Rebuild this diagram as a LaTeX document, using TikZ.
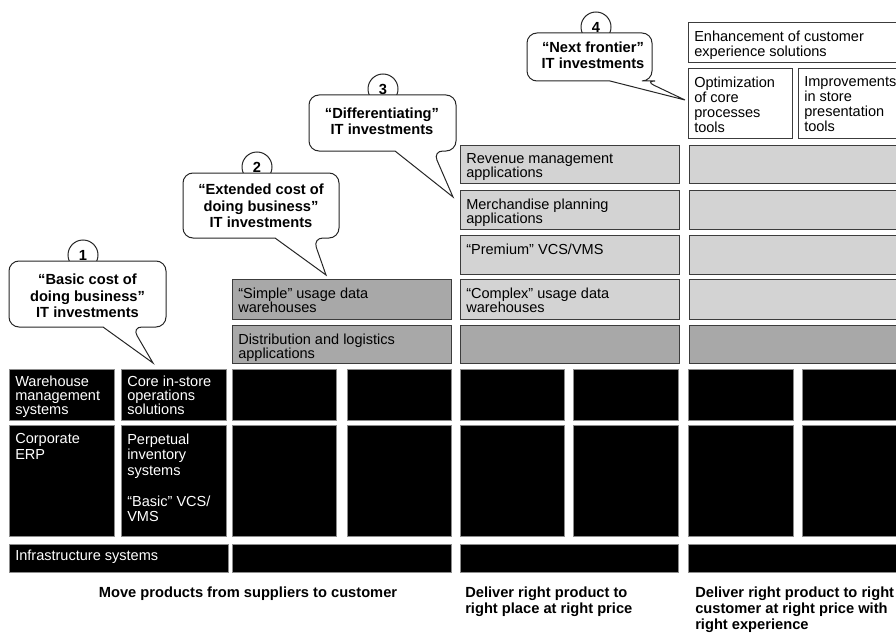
\documentclass[tikz,border=0pt]{standalone}
\usepackage{fontspec}
\setmainfont{Liberation Sans}
\definecolor{paleslot}{HTML}{D3D3D3}
\definecolor{deepslot}{HTML}{A8A8A8}
\definecolor{rimgray}{HTML}{3C3C3C}
\begin{document}
\begin{tikzpicture}[x=0.75pt, y=-0.75pt,
	sz/.style 2 args={minimum width=#1*0.75pt, minimum height=#2*0.75pt},
	slot/.style={anchor=north west, inner sep=0pt, draw=rimgray, line width=0.75pt},
	blk/.style={slot, fill=black, draw=black!45},
	pale/.style={slot, fill=paleslot},
	deep/.style={slot, fill=deepslot},
	plain/.style={slot, fill=white},
	txt/.style={anchor=north west, align=left, inner xsep=4.5pt, inner ysep=6.3pt, font=\fontsize{10.9}{#1}\selectfont},
	txt/.default=11.6pt,
	wtxt/.style={txt=#1, text=white},
	wtxt/.default=11.6pt,
	ring/.style={circle, draw=black!85, fill=white, line width=0.75pt, minimum size=22.5pt, inner sep=0pt, font=\bfseries\fontsize{11}{12}\selectfont},
	bub/.style={draw=black!85, fill=white, line width=0.75pt},
	bubtxt/.style={align=center, inner sep=0pt, font=\bfseries\fontsize{11}{12.2}\selectfont},
	goal/.style={align=left, inner sep=0pt, font=\bfseries\fontsize{11}{12}\selectfont}]
	\useasboundingbox (0,0) rectangle (896,635);
	\clip (0,0) rectangle (896,635);

	\node[blk, sz={105}{51}] (wms) at (9,369) {};
	\node[blk, sz={105}{51}] (core) at (121,369) {};
	\node[blk, sz={104}{51}] (up3) at (232,369) {};
	\node[blk, sz={104}{51}] (up4) at (347,369) {};
	\node[blk, sz={104}{51}] (up5) at (460,369) {};
	\node[blk, sz={105}{51}] (up6) at (573,369) {};
	\node[blk, sz={105}{51}] (up7) at (688,369) {};
	\node[blk, sz={110}{51}] (up8) at (802,369) {};
	\node[wtxt=10.5pt, inner ysep=4.8pt] (wms-t) at (wms.north west) {Warehouse\\management\\systems};
	\node[wtxt=10.5pt, inner ysep=4.8pt] (core-t) at (core.north west) {Core in-store\\operations\\solutions};

	\node[blk, sz={105}{111}] (erp) at (9,425) {};
	\node[blk, sz={105}{111}] (inv) at (121,425) {};
	\node[blk, sz={104}{111}] (lo3) at (232,425) {};
	\node[blk, sz={104}{111}] (lo4) at (347,425) {};
	\node[blk, sz={104}{111}] (lo5) at (460,425) {};
	\node[blk, sz={105}{111}] (lo6) at (573,425) {};
	\node[blk, sz={105}{111}] (lo7) at (688,425) {};
	\node[blk, sz={110}{111}] (lo8) at (802,425) {};
	\node[wtxt] (erp-t) at (erp.north west) {Corporate\\ERP};
	\node[wtxt] (inv-t) at (inv.north west) {Perpetual\\inventory\\systems\\[11.6pt]“Basic” VCS/\\VMS};

	\node[blk, sz={219}{28}] (infra) at (9,544) {};
	\node[blk, sz={219}{28}] (infra2) at (232,544) {};
	\node[blk, sz={218}{28}] (infra3) at (460,544) {};
	\node[blk, sz={222}{28}] (infra4) at (688,544) {};
	\node[wtxt, inner ysep=4pt] (infra-t) at (infra.north west) {Infrastructure systems};

	\node[deep, sz={219}{40}] (simple) at (232,279) {};
	\node[deep, sz={219}{38}] (dist) at (232,325) {};
	\node[txt=10.5pt] (simple-t) at (simple.north west) {“Simple” usage data\\warehouses};
	\node[txt=10.5pt] (dist-t) at (dist.north west) {Distribution and logistics\\applications};

	\node[pale, sz={219}{38}] (rev) at (460,145) {};
	\node[pale, sz={219}{39}] (merch) at (460,190) {};
	\node[pale, sz={219}{39}] (prem) at (460,235) {};
	\node[pale, sz={219}{40}] (cplx) at (460,279) {};
	\node[deep, sz={219}{38}] (mid5) at (460,325) {};
	\node[txt=10.5pt] (rev-t) at (rev.north west) {Revenue management\\applications};
	\node[txt=10.5pt] (merch-t) at (merch.north west) {Merchandise planning\\applications};
	\node[txt=10.5pt] (prem-t) at (prem.north west) {“Premium” VCS/VMS};
	\node[txt=10.5pt] (cplx-t) at (cplx.north west) {“Complex” usage data\\warehouses};

	\node[pale, sz={222}{38}] (rev2) at (689,145) {};
	\node[pale, sz={222}{39}] (merch2) at (689,190) {};
	\node[pale, sz={222}{39}] (prem2) at (689,235) {};
	\node[pale, sz={222}{40}] (cplx2) at (689,279) {};
	\node[deep, sz={222}{38}] (mid6) at (689,325) {};

	\node[plain, sz={222}{40}] (enh) at (688,22) {};
	\node[plain, sz={104}{70}] (optim) at (688,68) {};
	\node[plain, sz={112}{70}] (impr) at (798,68) {};
	\node[txt=11.25pt] (enh-t) at (enh.north west) {Enhancement of customer\\experience solutions};
	\node[txt=11.25pt] (optim-t) at (optim.north west) {Optimization\\of core\\processes\\tools};
	\node[txt=11.25pt] (impr-t) at (impr.north west) {Improvements\\in store\\presentation\\tools};

	\node[ring] (n1) at (83,255) {1};
	\draw[bub] (103,327) [rounded corners=7.5pt] -- (9,327) |- (166,261) |- (132,327) [sharp corners] -- (153,363) -- cycle;
	\node[bubtxt] (c1) at (87.5,296) {“Basic cost of\\doing business”\\IT investments};

	\node[ring] (n2) at (257,167) {2};
	\draw[bub] (275,238) [rounded corners=7.5pt] -- (183,238) |- (339,173) |- (313,238) [sharp corners] -- (326,275) -- cycle;
	\node[bubtxt] (c2) at (261,206) {“Extended cost of\\doing business”\\IT investments};

	\node[ring] (n3) at (383,89) {3};
	\draw[bub] (395,151) [rounded corners=7.5pt] -- (309,151) |- (456,95) |- (433,151) [sharp corners] -- (453,197) -- cycle;
	\node[bubtxt] (c3) at (382,121) {“Differentiating”\\IT investments};

	\node[ring] (n4) at (596,27) {4};
	\draw[bub] (610,81) [rounded corners=7.5pt] -- (527,81) |- (652,33) |- (645,81) [sharp corners] -- (685,100) -- cycle;
	\node[bubtxt] (c4) at (593,55) {“Next frontier”\\IT investments};

	\node[goal, anchor=base] (g1) at (248,597) {Move products from suppliers to customer};
	\node[goal, anchor=north west] (g2) at (465,586.5) {Deliver right product to\\right place at right price};
	\node[goal, anchor=north west] (g3) at (695,586.5) {Deliver right product to right\\customer at right price with\\right experience};
\end{tikzpicture}
\end{document}
